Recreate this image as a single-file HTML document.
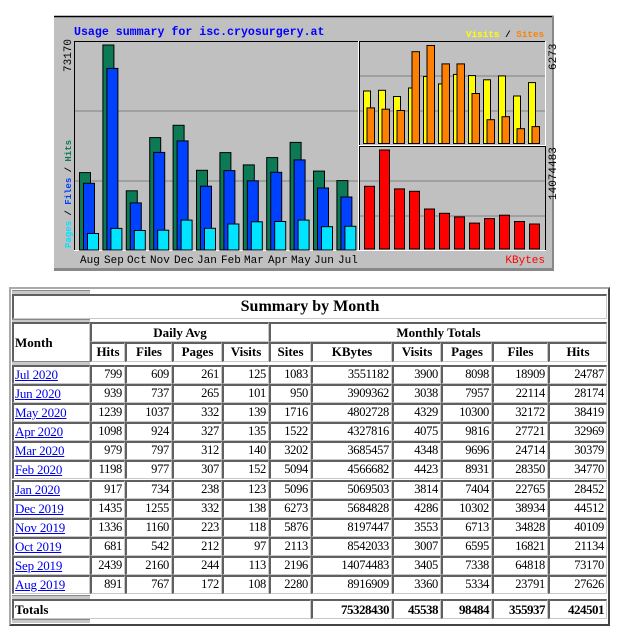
<!DOCTYPE html>
<html><head><meta charset="utf-8"><style>
body{margin:0;width:620px;height:640px;background:#fff;position:relative;overflow:hidden;font-family:"Liberation Serif",serif}
.box{position:absolute;left:9px;top:287px;width:597px;height:335px;border:2px solid;border-color:#aaa #444 #444 #aaa;background:#fff}
.r{position:absolute;left:12px;display:flex;height:19px}
.c{box-sizing:border-box;height:100%;border-left:2px solid #606060;border-top:2px solid #606060;border-right:1px solid #c8c8c8;border-bottom:1px solid #c8c8c8;background:#fff;text-align:right;padding-right:2px;font-size:12.5px;line-height:15px;letter-spacing:-0.3px;white-space:nowrap;overflow:hidden}
.h{font-weight:bold;text-align:center;padding:0;letter-spacing:0;font-size:13px}
.m{text-align:left;padding-left:1px;font-size:13px;letter-spacing:-0.2px}
.m a{color:#00e;text-decoration:underline}
.w0{width:78px}.w1{width:35px}.w2{width:47px}.w3{width:50px}.w4{width:47px}.w5{width:42px}.w6{width:81px}.w7{width:49px}.w8{width:51px}.w9{width:56px}.w10{width:59px}
.bar{position:absolute;left:12px;width:78px;height:3px;background:#c8c8c8;border-top:1px solid #888}
</style></head><body>
<svg style="position:absolute;left:0;top:0" width="620" height="280" font-family="Liberation Mono, monospace">
<rect x="54" y="16" width="500" height="254" fill="#c0c0c0"/>
<line x1="54" y1="16.5" x2="554" y2="16.5" stroke="#000" stroke-width="1.5"/>
<rect x="54" y="268" width="500" height="3" fill="#888"/>
<rect x="552" y="16" width="2" height="254" fill="#888"/>
<g stroke="#808080" stroke-width="1">
<line x1="75" y1="111" x2="358" y2="111"/><line x1="75" y1="181" x2="358" y2="181"/>
<line x1="359" y1="76" x2="545" y2="76"/><line x1="359" y1="111" x2="545" y2="111"/>
<line x1="359" y1="181" x2="545" y2="181"/><line x1="359" y1="216" x2="545" y2="216"/>
</g>
<rect x="74.5" y="41.5" width="284" height="209" fill="none" stroke="#000"/>
<line x1="74" y1="250.5" x2="359" y2="250.5" stroke="#fff"/>
<line x1="358.5" y1="41" x2="358.5" y2="251" stroke="#fff"/>
<rect x="359.5" y="41.5" width="186" height="104" fill="none" stroke="#000"/>
<line x1="359" y1="145.5" x2="546" y2="145.5" stroke="#fff"/><line x1="545.5" y1="41" x2="545.5" y2="251" stroke="#fff"/>
<rect x="359.5" y="146.5" width="186" height="104" fill="none" stroke="#000"/>
<line x1="359" y1="250.5" x2="546" y2="250.5" stroke="#fff"/>
<g stroke="#000" stroke-width="1">
<g fill="#0b7a55">
<rect x="79.5" y="172.6" width="11" height="77.4"/><rect x="102.9" y="45" width="11" height="205"/><rect x="126.3" y="190.8" width="11" height="59.2"/><rect x="149.7" y="137.6" width="11" height="112.4"/><rect x="173.1" y="125.3" width="11" height="124.7"/><rect x="196.5" y="170.3" width="11" height="79.7"/><rect x="219.9" y="152.6" width="11" height="97.4"/><rect x="243.3" y="164.9" width="11" height="85.1"/><rect x="266.7" y="157.6" width="11" height="92.4"/><rect x="290.1" y="142.4" width="11" height="107.6"/><rect x="313.5" y="171.1" width="11" height="78.9"/><rect x="336.9" y="180.6" width="11" height="69.4"/>
</g>
<g fill="#0040ff">
<rect x="83.5" y="183.3" width="11" height="66.7"/><rect x="106.9" y="68.4" width="11" height="181.6"/><rect x="130.3" y="202.9" width="11" height="47.1"/><rect x="153.7" y="152.4" width="11" height="97.6"/><rect x="177.1" y="140.9" width="11" height="109.1"/><rect x="200.5" y="186.2" width="11" height="63.8"/><rect x="223.9" y="170.6" width="11" height="79.4"/><rect x="247.3" y="180.8" width="11" height="69.2"/><rect x="270.7" y="172.3" width="11" height="77.7"/><rect x="294.1" y="159.9" width="11" height="90.1"/><rect x="317.5" y="188" width="11" height="62"/><rect x="340.9" y="197" width="11" height="53"/>
</g>
<g fill="#00e4ff">
<rect x="87.5" y="233.5" width="11" height="16.5"/><rect x="110.9" y="228.4" width="11" height="21.6"/><rect x="134.3" y="230.5" width="11" height="19.5"/><rect x="157.7" y="230.2" width="11" height="19.8"/><rect x="181.1" y="220.1" width="11" height="29.9"/><rect x="204.5" y="228.3" width="11" height="21.7"/><rect x="227.9" y="224" width="11" height="26"/><rect x="251.3" y="221.8" width="11" height="28.2"/><rect x="274.7" y="221.5" width="11" height="28.5"/><rect x="298.1" y="220.1" width="11" height="29.9"/><rect x="321.5" y="226.7" width="11" height="23.3"/><rect x="344.9" y="226.3" width="11" height="23.7"/>
</g>
<g fill="#ffff00">
<rect x="363.5" y="91" width="7" height="52.5"/><rect x="378.5" y="90.3" width="7" height="53.2"/><rect x="393.5" y="96.5" width="7" height="47"/><rect x="408.5" y="88" width="7" height="55.5"/><rect x="423.5" y="76.5" width="7" height="67"/><rect x="438.5" y="83.9" width="7" height="59.6"/><rect x="453.5" y="74.4" width="7" height="69.1"/><rect x="468.5" y="75.6" width="7" height="67.9"/><rect x="483.5" y="79.8" width="7" height="63.7"/><rect x="498.5" y="75.9" width="7" height="67.6"/><rect x="513.5" y="96" width="7" height="47.5"/><rect x="528.5" y="82.6" width="7" height="60.9"/>
</g>
<g fill="#ff8000">
<rect x="367" y="107.9" width="7.5" height="35.6"/><rect x="382" y="109.2" width="7.5" height="34.3"/><rect x="397" y="110.5" width="7.5" height="33"/><rect x="412" y="51.7" width="7.5" height="91.8"/><rect x="427" y="45.5" width="7.5" height="98"/><rect x="442" y="63.9" width="7.5" height="79.6"/><rect x="457" y="63.9" width="7.5" height="79.6"/><rect x="472" y="93.5" width="7.5" height="50"/><rect x="487" y="119.7" width="7.5" height="23.8"/><rect x="502" y="116.7" width="7.5" height="26.8"/><rect x="517" y="128.7" width="7.5" height="14.8"/><rect x="532" y="126.6" width="7.5" height="16.9"/>
</g>
<g fill="#ff0000">
<rect x="364.5" y="186.3" width="10" height="62.7"/><rect x="379.5" y="150" width="10" height="99"/><rect x="394.5" y="188.9" width="10" height="60.1"/><rect x="409.5" y="191.3" width="10" height="57.7"/><rect x="424.5" y="209" width="10" height="40"/><rect x="439.5" y="213.3" width="10" height="35.7"/><rect x="454.5" y="216.9" width="10" height="32.1"/><rect x="469.5" y="223.1" width="10" height="25.9"/><rect x="484.5" y="218.6" width="10" height="30.4"/><rect x="499.5" y="215.2" width="10" height="33.8"/><rect x="514.5" y="221.5" width="10" height="27.5"/><rect x="529.5" y="224" width="10" height="25"/>
</g>
</g>
<text x="74" y="35" font-size="11.6" font-weight="bold" fill="#0000ff">Usage summary for isc.cryosurgery.at</text>
<text x="466" y="37" font-size="9.3" font-weight="bold"><tspan fill="#ffff00">Visits</tspan><tspan fill="#000"> / </tspan><tspan fill="#ff8000">Sites</tspan></text>
<text x="545" y="263" font-size="11" text-anchor="end" fill="#ff0000">KBytes</text>
<g font-size="11" fill="#000">
<text x="80" y="263">Aug</text><text x="104" y="263">Sep</text><text x="127" y="263">Oct</text><text x="150" y="263">Nov</text><text x="174" y="263">Dec</text><text x="197" y="263">Jan</text><text x="221" y="263">Feb</text><text x="244" y="263">Mar</text><text x="268" y="263">Apr</text><text x="291" y="263">May</text><text x="314" y="263">Jun</text><text x="338" y="263">Jul</text>
</g>
<text transform="translate(71,72) rotate(-90)" font-size="11">73170</text>
<text transform="translate(71,248) rotate(-90)" font-size="9" font-weight="bold"><tspan fill="#00e4ff">Pages</tspan><tspan fill="#000"> / </tspan><tspan fill="#0040ff">Files</tspan><tspan fill="#000"> / </tspan><tspan fill="#0b7a55">Hits</tspan></text>
<text transform="translate(556,70) rotate(-90)" font-size="11">6273</text>
<text transform="translate(556,200) rotate(-90)" font-size="11">14074483</text>
</svg>

<div class="box"></div>
<div class="bar" style="top:290px"></div>
<div class="r" style="top:294px;height:25px"><div class="c h" style="width:595px;font-size:16px;line-height:22px">Summary by Month</div></div>
<div class="bar" style="top:319px"></div>
<div class="r" style="top:322px;height:40px"><div class="c h w0" style="text-align:left;padding-left:1px;line-height:38px">Month</div></div>
<div class="r" style="top:322px;left:90px;height:20px"><div class="c h" style="width:179px;line-height:17px">Daily Avg</div><div class="c h" style="width:338px;line-height:17px">Monthly Totals</div></div>
<div class="r" style="top:342px;left:90px;height:20px"><div class="c h w1">Hits</div><div class="c h w2">Files</div><div class="c h w3">Pages</div><div class="c h w4">Visits</div><div class="c h w5">Sites</div><div class="c h w6">KBytes</div><div class="c h w7">Visits</div><div class="c h w8">Pages</div><div class="c h w9">Files</div><div class="c h w10">Hits</div></div>
<div class="bar" style="top:361px"></div>

<div class="r" style="top:365px"><div class="c m w0"><a>Jul 2020</a></div><div class="c w1">799</div><div class="c w2">609</div><div class="c w3">261</div><div class="c w4">125</div><div class="c w5">1083</div><div class="c w6">3551182</div><div class="c w7">3900</div><div class="c w8">8098</div><div class="c w9">18909</div><div class="c w10">24787</div></div>
<div class="r" style="top:384px"><div class="c m w0"><a>Jun 2020</a></div><div class="c w1">939</div><div class="c w2">737</div><div class="c w3">265</div><div class="c w4">101</div><div class="c w5">950</div><div class="c w6">3909362</div><div class="c w7">3038</div><div class="c w8">7957</div><div class="c w9">22114</div><div class="c w10">28174</div></div>
<div class="r" style="top:403px"><div class="c m w0"><a>May 2020</a></div><div class="c w1">1239</div><div class="c w2">1037</div><div class="c w3">332</div><div class="c w4">139</div><div class="c w5">1716</div><div class="c w6">4802728</div><div class="c w7">4329</div><div class="c w8">10300</div><div class="c w9">32172</div><div class="c w10">38419</div></div>
<div class="r" style="top:422px"><div class="c m w0"><a>Apr 2020</a></div><div class="c w1">1098</div><div class="c w2">924</div><div class="c w3">327</div><div class="c w4">135</div><div class="c w5">1522</div><div class="c w6">4327816</div><div class="c w7">4075</div><div class="c w8">9816</div><div class="c w9">27721</div><div class="c w10">32969</div></div>
<div class="r" style="top:441px"><div class="c m w0"><a>Mar 2020</a></div><div class="c w1">979</div><div class="c w2">797</div><div class="c w3">312</div><div class="c w4">140</div><div class="c w5">3202</div><div class="c w6">3685457</div><div class="c w7">4348</div><div class="c w8">9696</div><div class="c w9">24714</div><div class="c w10">30379</div></div>
<div class="r" style="top:460px"><div class="c m w0"><a>Feb 2020</a></div><div class="c w1">1198</div><div class="c w2">977</div><div class="c w3">307</div><div class="c w4">152</div><div class="c w5">5094</div><div class="c w6">4566682</div><div class="c w7">4423</div><div class="c w8">8931</div><div class="c w9">28350</div><div class="c w10">34770</div></div>
<div class="r" style="top:480px"><div class="c m w0"><a>Jan 2020</a></div><div class="c w1">917</div><div class="c w2">734</div><div class="c w3">238</div><div class="c w4">123</div><div class="c w5">5096</div><div class="c w6">5069503</div><div class="c w7">3814</div><div class="c w8">7404</div><div class="c w9">22765</div><div class="c w10">28452</div></div>
<div class="r" style="top:499px"><div class="c m w0"><a>Dec 2019</a></div><div class="c w1">1435</div><div class="c w2">1255</div><div class="c w3">332</div><div class="c w4">138</div><div class="c w5">6273</div><div class="c w6">5684828</div><div class="c w7">4286</div><div class="c w8">10302</div><div class="c w9">38934</div><div class="c w10">44512</div></div>
<div class="r" style="top:518px"><div class="c m w0"><a>Nov 2019</a></div><div class="c w1">1336</div><div class="c w2">1160</div><div class="c w3">223</div><div class="c w4">118</div><div class="c w5">5876</div><div class="c w6">8197447</div><div class="c w7">3553</div><div class="c w8">6713</div><div class="c w9">34828</div><div class="c w10">40109</div></div>
<div class="r" style="top:537px"><div class="c m w0"><a>Oct 2019</a></div><div class="c w1">681</div><div class="c w2">542</div><div class="c w3">212</div><div class="c w4">97</div><div class="c w5">2113</div><div class="c w6">8542033</div><div class="c w7">3007</div><div class="c w8">6595</div><div class="c w9">16821</div><div class="c w10">21134</div></div>
<div class="r" style="top:556px"><div class="c m w0"><a>Sep 2019</a></div><div class="c w1">2439</div><div class="c w2">2160</div><div class="c w3">244</div><div class="c w4">113</div><div class="c w5">2196</div><div class="c w6">14074483</div><div class="c w7">3405</div><div class="c w8">7338</div><div class="c w9">64818</div><div class="c w10">73170</div></div>
<div class="r" style="top:575px"><div class="c m w0"><a>Aug 2019</a></div><div class="c w1">891</div><div class="c w2">767</div><div class="c w3">172</div><div class="c w4">108</div><div class="c w5">2280</div><div class="c w6">8916909</div><div class="c w7">3360</div><div class="c w8">5334</div><div class="c w9">23791</div><div class="c w10">27626</div></div>
<div class="bar" style="top:595px"></div>
<div class="r" style="top:599px;height:20px"><div class="c h" style="width:299px;text-align:left;padding-left:1px;line-height:17px">Totals</div><div class="c h w6" style="text-align:right;padding-right:2px;line-height:17px;letter-spacing:-0.5px">75328430</div><div class="c h w7" style="text-align:right;padding-right:2px;line-height:17px;letter-spacing:-0.5px">45538</div><div class="c h w8" style="text-align:right;padding-right:2px;line-height:17px;letter-spacing:-0.5px">98484</div><div class="c h w9" style="text-align:right;padding-right:2px;line-height:17px;letter-spacing:-0.5px">355937</div><div class="c h w10" style="text-align:right;padding-right:2px;line-height:17px;letter-spacing:-0.5px">424501</div></div>
<div class="bar" style="top:619px"></div>
</body></html>
